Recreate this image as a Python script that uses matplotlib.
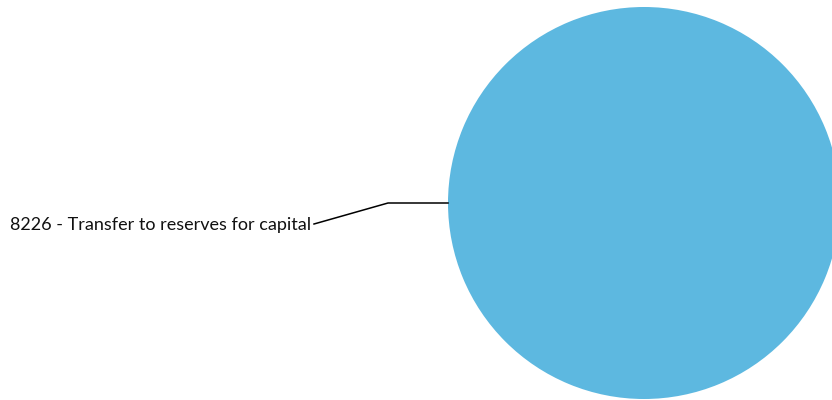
import matplotlib
matplotlib.use('Agg')
import matplotlib.pyplot as plt
import numpy as np

# ── data ──
labels = ['8226 - Transfer to reserves for capital']
values = [1.0]
colours = ['#5db8e0']

W, H = 832, 400
fig = plt.figure(figsize=(W / 100, H / 100), dpi=100)
ax = fig.add_axes([0, 0, 1, 1])

cx, cy, r = 644, 203, 196
# y axis is inverted, so angles run clockwise on screen; startangle 0 puts the mid-point at the left
wedges, _ = ax.pie(values, colors=colours, startangle=0, center=(cx, cy),
                   radius=r, frame=True, wedgeprops=dict(linewidth=0))
ax.set_xlim(0, W)
ax.set_ylim(H, 0)
ax.set_aspect('equal')
ax.axis('off')

for w, lab in zip(wedges, labels):
    mid = np.deg2rad((w.theta1 + w.theta2) / 2)
    x0, y0 = cx + r * np.cos(mid), cy + r * np.sin(mid)
    x1 = x0 - 60
    x2, y2 = x1 - 74, y0 + 21
    ax.plot([x0, x1, x2], [y0, y0, y2], color='black', lw=1.1)
    ax.text(x2 - 3, y2 + 1, lab, ha='right', va='center',
            fontsize=13.0, family='Lato', color='#111111')

fig.savefig('out.png', dpi=100)
